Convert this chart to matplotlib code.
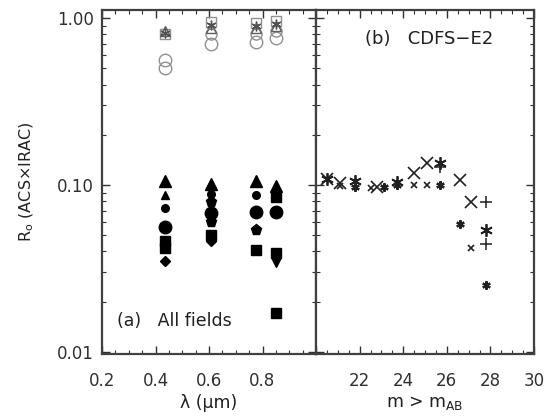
import matplotlib
matplotlib.use("Agg")
import matplotlib.pyplot as plt
from matplotlib.ticker import MultipleLocator, LogLocator, NullFormatter, FixedLocator

plt.rcParams['font.family'] = ['DejaVu Sans']

# ---------------- data: panel (a) ----------------
# filled symbols (IRAC-selected correlation), per ACS band wavelength (micron)
tri_x = [0.435, 0.606, 0.775, 0.85]
tri_y = [0.105, 0.101, 0.106, 0.099]
stri_x = [0.435]
stri_y = [0.087]
scirc_x = [0.435, 0.606, 0.775]
scirc_y = [0.073, 0.088, 0.087]
bcirc_x = [0.435, 0.606, 0.775, 0.85]
bcirc_y = [0.056, 0.068, 0.069, 0.069]
pent_x = [0.606, 0.606, 0.775]
pent_y = [0.079, 0.060, 0.054]
sq_x = [0.435, 0.435, 0.606, 0.775, 0.85, 0.85, 0.85]
sq_y = [0.046, 0.042, 0.050, 0.041, 0.039, 0.085, 0.017]
dia_x = [0.435, 0.606]
dia_y = [0.035, 0.046]
arrow_x = [0.85]
arrow_y = [0.0345]

# open grey symbols near unity
ocirc_x = [0.435, 0.435, 0.606, 0.775, 0.85]
ocirc_y = [0.50, 0.56, 0.70, 0.72, 0.76]
otri_x = [0.435, 0.606, 0.775, 0.85]
otri_y = [0.84, 0.87, 0.87, 0.90]
osq_x = [0.435, 0.606, 0.775, 0.85]
osq_y = [0.80, 0.95, 0.93, 0.96]
oast_x = [0.435, 0.606, 0.775, 0.85]
oast_y = [0.82, 0.91, 0.90, 0.92]
ocirc2_x = [0.606, 0.775, 0.85]
ocirc2_y = [0.80, 0.80, 0.84]

# ---------------- data: panel (b) ----------------
bigx_m = [20.5, 21.1, 22.8, 24.5, 25.1, 26.6, 27.1]
bigx_r = [0.108, 0.103, 0.097, 0.118, 0.135, 0.107, 0.079]
smx_m = [21.1, 22.5, 24.5, 25.1, 27.1]
smx_r = [0.098, 0.096, 0.100, 0.100, 0.042]
bast_m = [20.5, 21.8, 23.7, 25.7, 27.8]
bast_r = [0.108, 0.105, 0.104, 0.135, 0.054]
sast_m = [21.8, 23.1, 23.7, 25.7, 26.6, 27.8]
sast_r = [0.097, 0.097, 0.100, 0.100, 0.058, 0.025]
plus_m = [25.7, 27.8, 27.8]
plus_r = [0.128, 0.079, 0.044]

fig = plt.figure(figsize=(5.45, 4.2), dpi=100)
axa = fig.add_axes([102/545, 1-354/420, (316-102)/545, (354-10)/420])
axb = fig.add_axes([316/545, 1-354/420, (534-316)/545, (354-10)/420], sharey=axa)

k = 'black'
g = '#909090'
# panel a filled
axa.plot(tri_x, tri_y, '^', color=k, ms=8, ls='none')
axa.plot(stri_x, stri_y, '^', color=k, ms=5.5, ls='none')
axa.plot(scirc_x, scirc_y, 'o', color=k, ms=5.5, ls='none')
axa.plot(bcirc_x, bcirc_y, 'o', color=k, ms=9, ls='none')
axa.plot(pent_x, pent_y, 'p', color=k, ms=8, ls='none')
axa.plot(sq_x, sq_y, 's', color=k, ms=7.5, ls='none')
axa.plot(dia_x, dia_y, 'D', color=k, ms=5, ls='none')
axa.plot(arrow_x, arrow_y, 'v', color=k, ms=7, ls='none')
# panel a open
axa.plot(ocirc_x, ocirc_y, 'o', mfc='none', mec=g, ms=9, mew=1, ls='none')
axa.plot(ocirc2_x, ocirc2_y, 'o', mfc='none', mec=g, ms=8, mew=1, ls='none')
axa.plot(osq_x, osq_y, 's', mfc='none', mec=g, ms=7, mew=1, ls='none')
axa.plot(otri_x, otri_y, '^', mfc='none', mec='#606060', ms=7, mew=1, ls='none')
axa.plot(oast_x, oast_y, marker=(6, 2, 0), color='#505050', ms=7, mew=1, ls='none')

# panel b
axb.plot(bigx_m, bigx_r, 'x', color='#202020', ms=9, mew=1.2, ls='none')
axb.plot(smx_m, smx_r, 'x', color='#202020', ms=5, mew=1.2, ls='none')
axb.plot(bast_m, bast_r, marker=(6, 2, 0), color='#202020', ms=9, mew=1.3, ls='none')
axb.plot(sast_m, sast_r, marker=(6, 2, 0), color='#202020', ms=6, mew=1.6, ls='none')
axb.plot(plus_m, plus_r, '+', color='#202020', ms=8, mew=1.1, ls='none')

axa.set_yscale('log')
axa.set_ylim(0.0097, 1.12)
axa.set_xlim(0.2, 1.0)
axb.set_xlim(20, 30)

axa.xaxis.set_major_locator(FixedLocator([0.2, 0.4, 0.6, 0.8, 1.0]))
axa.xaxis.set_minor_locator(MultipleLocator(0.05))
axa.set_xticklabels(['0.2', '0.4', '0.6', '0.8', ''])
axb.xaxis.set_major_locator(FixedLocator([20, 22, 24, 26, 28, 30]))
axb.xaxis.set_minor_locator(MultipleLocator(0.5))
axb.set_xticklabels(['', '22', '24', '26', '28', '30'])

axa.yaxis.set_major_locator(FixedLocator([0.01, 0.1, 1.0]))
axa.yaxis.set_minor_locator(LogLocator(base=10, subs=range(2, 10)))
axa.yaxis.set_minor_formatter(NullFormatter())
axa.set_yticklabels(['0.01', '0.10', '1.00'])
plt.setp(axb.get_yticklabels(), visible=False)

for ax in (axa, axb):
    ax.tick_params(which='both', direction='in', top=True, right=True,
                   labelsize=12, colors='#303030')
    ax.tick_params(axis='x', which='both', pad=13)
    ax.tick_params(axis='y', which='both', pad=6)
    ax.tick_params(which='major', length=6, width=1)
    ax.tick_params(which='minor', length=3, width=0.8)
    for s in ax.spines.values():
        s.set_linewidth(1.6)
        s.set_color('#404040')
axb.tick_params(axis='y', which='both', labelleft=False)

axa.set_xlabel('λ (μm)', fontsize=12.5, color='#202020', labelpad=3)
axb.set_xlabel('m > m$_{\\rm AB}$', fontsize=12.5, color='#202020', labelpad=3)
axa.set_ylabel('R$_{\\rm o}$ (ACS×IRAC)', fontsize=11.5, color='#202020', labelpad=15)

axa.text(0.07, 0.07, '(a)   All fields', transform=axa.transAxes, fontsize=12.5,
         color='#202020', ha='left', va='bottom')
axb.text(0.52, 0.915, '(b)   CDFS−E2', transform=axb.transAxes, fontsize=13,
         color='#202020', ha='center', va='center')

fig.savefig('out.png', dpi=100)
